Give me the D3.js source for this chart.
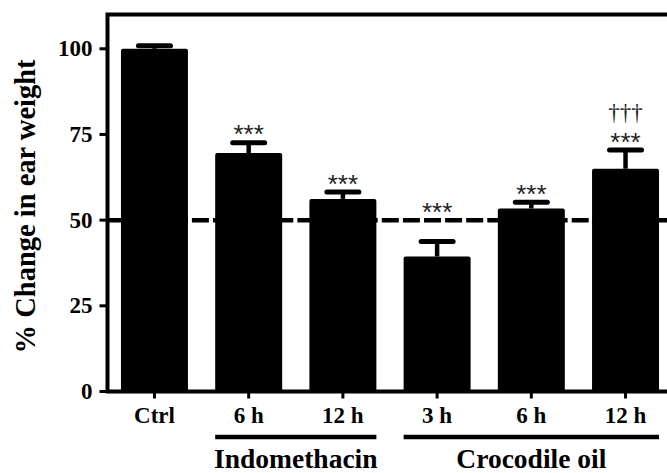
<!DOCTYPE html>
<html>
<head>
<meta charset="utf-8">
<script src="https://cdn.jsdelivr.net/npm/d3@7"></script>
<style>
  body { margin: 0; background: #fff; }
  text { font-family: "Liberation Serif", "Times New Roman", serif; }
</style>
</head>
<body>
<svg id="chart" width="667" height="473"></svg>
<script>
// data
var categories = ["Ctrl", "Indo 6 h", "Indo 12 h", "Croc 3 h", "Croc 6 h", "Croc 12 h"];
var tickLabels = ["Ctrl", "6 h", "12 h", "3 h", "6 h", "12 h"];
var means = [100, 69.6, 56.2, 39.4, 53.4, 65.0];
var sems = [0.9, 3.0, 2.0, 4.4, 1.8, 5.5];
var stars = ["", "***", "***", "***", "***", "***"];
var daggers = ["", "", "", "", "", "\u2020\u2020\u2020"];
var yTicks = [0, 25, 50, 75, 100];
var refLine = 50;

var groupNames = ["Indomethacin", "Crocodile oil"];
var groupFirst = [1, 3];
var groupLast = [2, 5];

var svg = d3.select("#chart");

var x = d3.scaleBand()
    .domain(categories)
    .range([107.5, 672.5])
    .paddingInner(0.289)
    .paddingOuter(0.143);

var y = d3.scaleLinear()
    .domain([0, 110])
    .range([391.5, 14.5]);

var left = x.range()[0], right = x.range()[1];

/*
dashed reference line at 50 %
*/
svg.append("line")
    .attr("x1", left).attr("x2", right)
    .attr("y1", y(refLine)).attr("y2", y(refLine))
    .style("stroke", "#000")
    .style("stroke-width", 4.5)
    .style("stroke-dasharray", "17,4.1");

// bars
svg.selectAll("rect.bar")
    .data(categories)
    .enter().append("rect")
    .attr("class", "bar")
    .attr("x", function(d){ return x(d); })
    .attr("width", x.bandwidth())
    .attr("y", function(d, i){ return y(means[i]); })
    .attr("height", function(d, i){ return y(0) - y(means[i]); })
    .attr("rx", 2)
    .style("fill", "#000");

// error bars (upper only)
var capHalf = 16;
categories.forEach(function(c, i){
    var cx = x(c) + x.bandwidth()/2;
    var top = y(means[i] + sems[i]);
    svg.append("line")
        .attr("x1", cx).attr("x2", cx)
        .attr("y1", y(means[i])).attr("y2", top)
        .style("stroke", "#000").style("stroke-width", 4.5);
    svg.append("line")
        .attr("x1", cx - capHalf).attr("x2", cx + capHalf)
        .attr("y1", top).attr("y2", top)
        .style("stroke", "#000").style("stroke-width", 5)
        .style("stroke-linecap", "round");

    // marks sit above the cap, or above the dashed line if the cap is below it
    var level = Math.max(means[i] + sems[i], refLine) + 4;
    var sy = y(level);
    if(stars[i]){
        svg.append("text")
            .attr("x", cx).attr("y", sy + 14.5)
            .attr("text-anchor", "middle")
            .style("font-family", "'Liberation Sans', Arial, sans-serif")
            .style("font-size", "26px")
            .style("fill", "#222")
            .text(stars[i]);
    }
    if(daggers[i]){
        svg.append("text")
            .attr("x", cx).attr("y", sy - 23 + 6.5)
            .attr("text-anchor", "middle")
            .style("font-size", "23px")
            .style("fill", "#222")
            .text(daggers[i]);
    }
});

/*
frame: left axis, bottom axis and top border
*/
svg.append("path")
    .attr("d", "M" + right + "," + y(110) + "L" + left + "," + y(110) + "L" + left + "," + y(0) + "L" + right + "," + y(0))
    .style("fill", "none")
    .style("stroke", "#000")
    .style("stroke-width", 4);

// y ticks
svg.selectAll("line.ytick")
    .data(yTicks)
    .enter().append("line")
    .attr("class", "ytick")
    .attr("x1", left - 8).attr("x2", left)
    .attr("y1", function(d){ return y(d); })
    .attr("y2", function(d){ return y(d); })
    .style("stroke", "#000").style("stroke-width", 3);

svg.selectAll("text.ylab")
    .data(yTicks)
    .enter().append("text")
    .attr("class", "ylab")
    .attr("x", left - 15)
    .attr("y", function(d){ return y(d); })
    .attr("dy", "0.33em")
    .attr("text-anchor", "end")
    .style("font-size", "23px")
    .style("font-weight", "bold")
    .text(function(d){ return d; });

// x ticks
svg.selectAll("line.xtick")
    .data(categories)
    .enter().append("line")
    .attr("class", "xtick")
    .attr("x1", function(d){ return x(d) + x.bandwidth()/2; })
    .attr("x2", function(d){ return x(d) + x.bandwidth()/2; })
    .attr("y1", y(0)).attr("y2", y(0) + 7)
    .style("stroke", "#000").style("stroke-width", 3);

svg.selectAll("text.xlab")
    .data(categories)
    .enter().append("text")
    .attr("class", "xlab")
    .attr("x", function(d){ return x(d) + x.bandwidth()/2; })
    .attr("y", 423)
    .attr("text-anchor", "middle")
    .style("font-size", "23px")
    .style("font-weight", "bold")
    .text(function(d, i){ return tickLabels[i]; });

// group underlines and names
groupNames.forEach(function(g, i){
    var x1 = x(categories[groupFirst[i]]);
    var x2 = x(categories[groupLast[i]]) + x.bandwidth();
    svg.append("line")
        .attr("x1", x1).attr("x2", x2)
        .attr("y1", 437).attr("y2", 437)
        .style("stroke", "#000").style("stroke-width", 4.5);
    svg.append("text")
        .attr("x", (x1 + x2)/2)
        .attr("y", 468)
        .attr("text-anchor", "middle")
        .style("font-size", "27.5px")
        .style("font-weight", "bold")
        .text(g);
});

// y axis title
svg.append("text")
    .attr("transform", "translate(35," + y(54) + ") rotate(-90)")
    .attr("text-anchor", "middle")
    .style("font-size", "28.5px")
    .style("font-weight", "bold")
    .text("% Change in ear weight");
</script>
</body>
</html>
